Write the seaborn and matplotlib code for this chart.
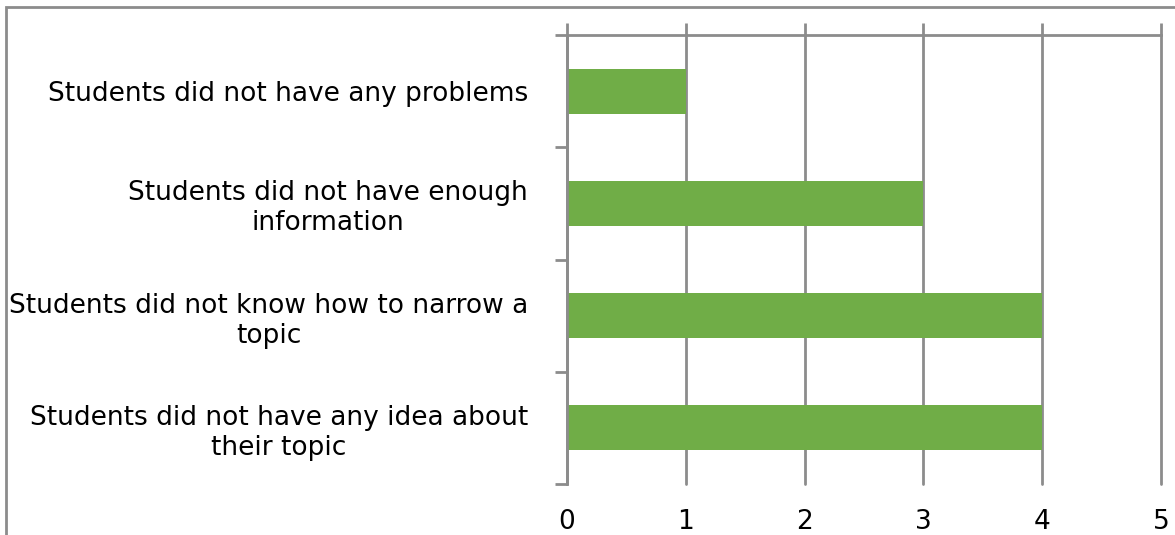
import numpy as np
import pandas as pd
import seaborn as sns
import matplotlib.pyplot as plt
from matplotlib.patches import Rectangle

categories = [
    "Students did not have any problems",
    "Students did not have enough\ninformation",
    "Students did not know how to narrow a\ntopic",
    "Students did not have any idea about\ntheir topic",
]
counts = [1, 3, 4, 4]
x_ticks = [0, 1, 2, 3, 4, 5]

GREEN = "#70AD47"
GRAY = "#8C8C8C"

df = pd.DataFrame({"problem": categories, "count": counts})

sns.set_theme(style="white")
plt.rcParams['font.family'] = ['DejaVu Sans']

fig = plt.figure(figsize=(11.75, 5.35), dpi=100)
ax = fig.add_axes([567 / 1175, 1 - 484 / 535, (1161 - 567) / 1175, (484 - 35) / 535])

sns.barplot(data=df, y="problem", x="count", orient="h", color=GREEN,
            width=0.4, saturation=1, linewidth=0, ax=ax)

ax.set_xlim(0, 5)
ax.set_ylim(3.5, -0.5)
ax.set_xticks(x_ticks)
ax.set_xticklabels([str(t) for t in x_ticks], fontsize=19, color="black")
ax.xaxis.grid(True, color=GRAY, linewidth=2)
for gl in ax.get_xgridlines():
    gl.set_clip_on(False)
ax.set_axisbelow(True)
ax.set_xlabel("")
ax.set_ylabel("")

# value ticks drawn upward from the top line, labels stay at the bottom
ax.tick_params(axis="x", top=True, bottom=False, labeltop=False, labelbottom=True,
               length=9, width=2, color=GRAY, direction="out", pad=9)

# category labels at centres, boundary ticks as minor ticks
ax.set_yticks(range(len(categories)))
ax.set_yticklabels(categories, fontsize=19, color="black", multialignment="center")
ax.set_yticks(np.arange(-0.5, len(categories), 1.0), minor=True)
ax.tick_params(axis="y", which="major", length=0, pad=28)
ax.tick_params(axis="y", which="minor", left=True, length=9, width=2, color=GRAY, direction="out")

for side in ["left", "top"]:
    ax.spines[side].set_visible(True)
    ax.spines[side].set_color(GRAY)
    ax.spines[side].set_linewidth(2)
for side in ["right", "bottom"]:
    ax.spines[side].set_visible(False)

# outer chart border
fig.patches.append(Rectangle((6 / 1175, -0.1), 1.2, 1.1 - 7 / 535, transform=fig.transFigure,
                             fill=False, edgecolor=GRAY, linewidth=2, figure=fig))

fig.savefig("out.png", dpi=100)
